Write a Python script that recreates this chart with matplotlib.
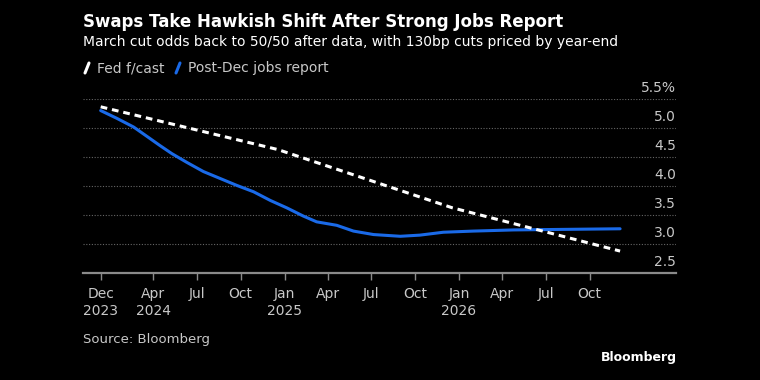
import numpy as np
import pandas as pd
import matplotlib
matplotlib.use('Agg')
import matplotlib.pyplot as plt
import matplotlib.transforms as mtransforms
from matplotlib.lines import Line2D

plt.rcParams['font.family'] = ['Liberation Sans Narrow', 'DejaVu Sans']

# Fed dots path (Dec 2023 SEP)
fed_dates = ['2023-12-13', '2024-12-18', '2025-12-17', '2026-12-04']
fed_values = [5.37, 4.63, 3.625, 2.874]

# Market pricing after the December jobs report
swap_dates = ['2023-12-13', '2024-01-16', '2024-02-20', '2024-03-22', '2024-04-15',
              '2024-05-10', '2024-06-10', '2024-07-15', '2024-08-19', '2024-09-23',
              '2024-10-28', '2024-12-02', '2025-01-06', '2025-02-09', '2025-03-09',
              '2025-04-20', '2025-05-25', '2025-07-06', '2025-08-31', '2025-10-11',
              '2025-11-29', '2026-01-31', '2026-04-25', '2026-08-14', '2026-12-04']
swap_values = [5.305, 5.17, 5.02, 4.84, 4.70,
               4.56, 4.41, 4.25, 4.13, 4.01,
               3.90, 3.75, 3.62, 3.48, 3.38,
               3.32, 3.22, 3.16, 3.13, 3.15,
               3.20, 3.22, 3.24, 3.25, 3.26]

tick_dates = ['2023-12-13', '2024-04-01', '2024-07-01', '2024-10-01', '2025-01-01',
              '2025-04-01', '2025-07-01', '2025-10-01', '2026-01-01', '2026-04-01',
              '2026-07-01', '2026-10-01']
tick_labels = ['Dec\n2023', 'Apr\n2024', 'Jul', 'Oct', 'Jan\n2025', 'Apr', 'Jul', 'Oct',
               'Jan\n2026', 'Apr', 'Jul', 'Oct']
y_ticks = [2.5, 3.0, 3.5, 4.0, 4.5, 5.0, 5.5]
y_labels = ['2.5', '3.0', '3.5', '4.0', '4.5', '5.0', '5.5%']

bg = 'black'
grey_txt = '#c8c8c8'
blue = '#1a6ae8'

fig = plt.figure(figsize=(7.6, 3.8), dpi=100, facecolor=bg)
ax = fig.add_axes([83 / 760, 1 - 272.7 / 380, (676 - 83) / 760, (272.7 - 99.3) / 380])
ax.set_facecolor(bg)

fd = pd.to_datetime(fed_dates)
sd = pd.to_datetime(swap_dates)
ax.plot(sd, swap_values, color=blue, lw=2.2, solid_capstyle='round',
        solid_joinstyle='round', zorder=3)
ax.plot(fd, fed_values, color='white', lw=2.2, dashes=(2.2, 1.6), zorder=4)

ax.set_xlim(pd.Timestamp('2023-11-06'), pd.Timestamp('2027-03-31'))
ax.set_ylim(2.5, 5.5)

for v in y_ticks[1:]:
    ax.axhline(v, color='#666666', lw=0.8, ls=(0, (1, 1.5)), zorder=1)
ax.axhline(2.5, color='#8a8a8a', lw=1.6, zorder=2, clip_on=False)

# y labels sit just above their gridlines at the right edge
trans = mtransforms.blended_transform_factory(ax.transAxes, ax.transData)
for v, lab in zip(y_ticks, y_labels):
    ax.text(1.0, v + 0.07, lab, transform=trans, ha='right', va='bottom', color=grey_txt,
            fontsize=10, clip_on=False)

for s in ax.spines.values():
    s.set_visible(False)
ax.set_yticks([])
ax.set_xticks(pd.to_datetime(tick_dates))
ax.set_xticklabels(tick_labels)
ax.tick_params(axis='x', colors='#8a8a8a', length=5, width=1, direction='out', pad=5,
               labelcolor=grey_txt, labelsize=10)
for lab in ax.get_xticklabels():
    lab.set_linespacing(1.35)

fig.text(83 / 760, 1 - 22 / 380, 'Swaps Take Hawkish Shift After Strong Jobs Report',
         color='white', fontsize=12, fontweight='bold', va='center', ha='left')
fig.text(83 / 760, 1 - 42 / 380,
         'March cut odds back to 50/50 after data, with 130bp cuts priced by year-end',
         color='white', fontsize=10, va='center', ha='left')

# legend
ly = 1 - 68 / 380
for x0, col, lab in [(85, 'white', 'Fed f/cast'), (176, blue, 'Post-Dec jobs report')]:
    fig.add_artist(Line2D([x0 / 760, (x0 + 4) / 760], [ly - 5 / 380, ly + 5 / 380],
                          color=col, lw=2.2, solid_capstyle='round'))
    fig.text((x0 + 12) / 760, ly, lab, color=grey_txt, fontsize=10, va='center', ha='left')

fig.text(83 / 760, 1 - 340 / 380, 'Source: Bloomberg', color=grey_txt, fontsize=9.5,
         va='center', ha='left')
fig.text(677 / 760, 1 - 357 / 380, 'Bloomberg', color='white', fontsize=9,
         fontweight='bold', va='center', ha='right')

fig.savefig('out.png', dpi=100, facecolor=bg)
